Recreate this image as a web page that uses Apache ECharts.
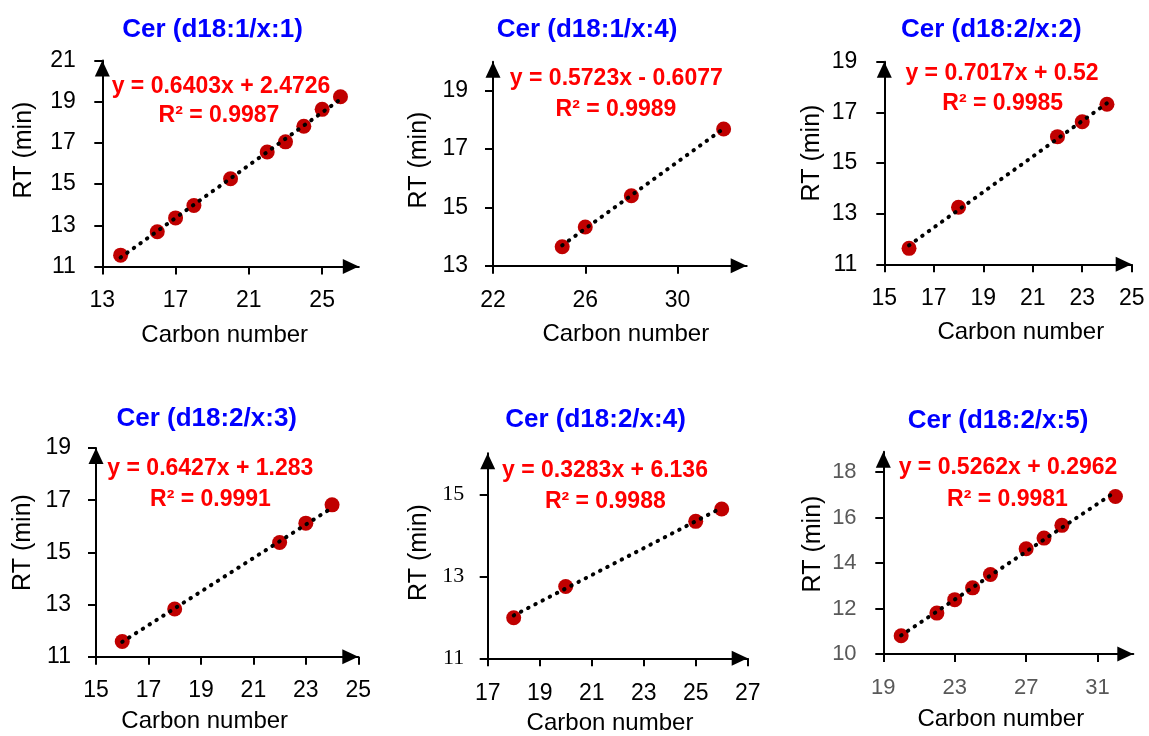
<!DOCTYPE html>
<html>
<head>
<meta charset="utf-8">
<script src="https://cdn.jsdelivr.net/npm/echarts@6/dist/echarts.min.js"></script>
<style>
html,body{margin:0;padding:0;background:#fff;}
#chart{width:1149px;height:736px;}
</style>
</head>
<body>
<div id="chart"></div>
<script>
// ---- data ----
const titles = ['Cer (d18:1/x:1)', 'Cer (d18:1/x:4)', 'Cer (d18:2/x:2)', 'Cer (d18:2/x:3)', 'Cer (d18:2/x:4)', 'Cer (d18:2/x:5)'];
const carbon1 = [14, 16, 17, 18, 20, 22, 23, 24, 25, 26];
const rt1 = [11.55, 12.69, 13.36, 13.96, 15.26, 16.56, 17.05, 17.81, 18.63, 19.24];
const carbon2 = [25, 26, 28, 32];
const rt2 = [13.65, 14.33, 15.40, 17.69];
const carbon3 = [16, 18, 22, 23, 24];
const rt3 = [11.63, 13.25, 16.04, 16.63, 17.32];
const carbon4 = [16, 18, 22, 23, 24];
const rt4 = [11.58, 12.83, 15.38, 16.12, 16.82];
const carbon5 = [18, 20, 25, 26];
const rt5 = [11.99, 12.75, 14.34, 14.64];
const carbon6 = [20, 22, 23, 24, 25, 27, 28, 29, 32];
const rt6 = [10.80, 11.80, 12.39, 12.91, 13.50, 14.63, 15.10, 15.66, 16.93];
const slopes = [0.6403, 0.5723, 0.7017, 0.6427, 0.3283, 0.5262];
const intercepts = [2.4726, -0.6077, 0.52, 1.283, 6.136, 0.2962];
const equations = ['y = 0.6403x + 2.4726', 'y = 0.5723x - 0.6077', 'y = 0.7017x + 0.52', 'y = 0.6427x + 1.283', 'y = 0.3283x + 6.136', 'y = 0.5262x + 0.2962'];
const r2Texts = ['R² = 0.9987', 'R² = 0.9989', 'R² = 0.9985', 'R² = 0.9991', 'R² = 0.9988', 'R² = 0.9981'];
const xTicks = [[13, 17, 21, 25], [22, 26, 30], [15, 17, 19, 21, 23, 25], [15, 17, 19, 21, 23, 25], [17, 19, 21, 23, 25, 27], [19, 23, 27, 31]];
const yTicks = [[11, 13, 15, 17, 19, 21], [13, 15, 17, 19], [11, 13, 15, 17, 19], [11, 13, 15, 17, 19], [11, 13, 15], [10, 12, 14, 16, 18]];
const xRanges = [[13, 27], [22, 33], [15, 25], [15, 25], [17, 27], [19, 33]];
const yRanges = [[11, 21], [13, 20], [11, 19], [11, 19], [11, 16], [10, 18.9]];
const xName = 'Carbon number';
const yName = 'RT (min)';

const carbons = [carbon1, carbon2, carbon3, carbon4, carbon5, carbon6];
const rts = [rt1, rt2, rt3, rt4, rt5, rt6];

// ---- layout ----
const grids = [
  {left: 102.3, top: 60.5, right: 358.8, bottom: 266.5},
  {left: 493, top: 61.7, right: 746.7, bottom: 265.7},
  {left: 884.3, top: 61.7, right: 1131.7, bottom: 264.3},
  {left: 96, top: 448, right: 358.3, bottom: 656.7},
  {left: 487.7, top: 453.3, right: 747.7, bottom: 658.3},
  {left: 883.3, top: 451.7, right: 1133.3, bottom: 654}
];
const titlePos = [[212.5, 30], [587, 30], [991.3, 30], [206.7, 419], [595.5, 420], [998, 421]];
const eq1Pos = [[221, 87], [616.3, 78.7], [1002, 74], [210.3, 469], [605, 471], [1008, 468]];
const eq2Pos = [[219, 116], [616, 110], [1002.7, 104], [210.5, 500], [605.3, 501.7], [1007.5, 500]];
const yNamePos = [[24, 150], [419, 160], [811.7, 153], [23.3, 542.5], [419, 552.5], [813.3, 544]];
const xNamePos = [[224.7, 335], [625.8, 334], [1020.8, 332.5], [204.7, 721], [610, 723], [1000.8, 719]];
const yLabelMargin = [26.5, 25, 27, 25, 23.4, 26.7];
const xLabelMargin = [23, 23, 23, 22, 24, 23];
const labelFont = ['Liberation Sans', 'Liberation Sans', 'Liberation Sans', 'Liberation Sans', 'Liberation Sans', 'Liberation Sans'];
const yLabelFont = ['Liberation Sans', 'Liberation Sans', 'Liberation Sans', 'Liberation Sans', 'Liberation Serif', 'Liberation Sans'];
const labelColor = ['#000', '#000', '#000', '#000', '#000', '#595959'];
const labelSize = [23, 23, 23, 23, 23, 22];
const yLabelSize = [23, 23, 23, 23, 22, 22];

const option = {
  backgroundColor: '#fff',
  animation: false,
  grid: [], xAxis: [], yAxis: [], series: [], graphic: []
};

function axisCommon() {
  return {
    type: 'value',
    splitLine: {show: false},
    axisLine: {show: true, onZero: false, symbol: ['none', 'triangle'], symbolSize: [15, 16], symbolOffset: [0, -8],
      lineStyle: {color: '#000', width: 2}},
    axisTick: {show: true, inside: false, length: 8, lineStyle: {color: '#000', width: 2}}
  };
}

for (let i = 0; i < 6; i++) {
  const g = grids[i];
  option.grid.push({left: g.left, top: g.top, width: g.right - g.left, height: g.bottom - g.top, containLabel: false});
  const xa = axisCommon();
  xa.gridIndex = i; xa.min = xRanges[i][0]; xa.max = xRanges[i][1];
  xa.axisTick.customValues = xTicks[i];
  xa.axisLabel = {customValues: xTicks[i], margin: xLabelMargin[i], fontSize: labelSize[i], fontFamily: labelFont[i], color: labelColor[i]};
  option.xAxis.push(xa);
  const ya = axisCommon();
  ya.gridIndex = i; ya.min = yRanges[i][0]; ya.max = yRanges[i][1];
  ya.axisTick.customValues = yTicks[i];
  ya.axisLabel = {customValues: yTicks[i], margin: yLabelMargin[i], fontSize: yLabelSize[i], fontFamily: yLabelFont[i], color: labelColor[i]};
  option.yAxis.push(ya);

  const pts = carbons[i].map((c, k) => [c, rts[i][k]]);
  option.series.push({
    type: 'scatter', xAxisIndex: i, yAxisIndex: i, data: pts, symbol: 'circle', symbolSize: 15,
    itemStyle: {color: '#C00000', opacity: 1}, z: 2
  });
  const x0 = Math.min.apply(null, carbons[i]);
  const x1 = Math.max.apply(null, carbons[i]);
  option.series.push({
    type: 'line', xAxisIndex: i, yAxisIndex: i, showSymbol: false, symbol: 'none', z: 3,
    data: [[x0, slopes[i] * x0 + intercepts[i]], [x1, slopes[i] * x1 + intercepts[i]]],
    lineStyle: {color: '#000', width: 4, type: [0.5, 7.6], cap: 'round'}
  });

  option.graphic.push({type: 'text', x: titlePos[i][0], y: titlePos[i][1], z: 10,
    style: {text: titles[i], fill: '#0000FF', font: 'bold 26px "Liberation Sans"', align: 'center', verticalAlign: 'middle'}});
  option.graphic.push({type: 'text', x: eq1Pos[i][0], y: eq1Pos[i][1], z: 10,
    style: {text: equations[i], fill: '#FF0000', font: 'bold 23px "Liberation Sans"', align: 'center', verticalAlign: 'middle'}});
  option.graphic.push({type: 'text', x: eq2Pos[i][0], y: eq2Pos[i][1], z: 10,
    style: {text: r2Texts[i], fill: '#FF0000', font: 'bold 23px "Liberation Sans"', align: 'center', verticalAlign: 'middle'}});
  option.graphic.push({type: 'text', x: xNamePos[i][0], y: xNamePos[i][1], z: 10,
    style: {text: xName, fill: '#000', font: '24px "Liberation Sans"', align: 'center', verticalAlign: 'middle'}});
  option.graphic.push({type: 'text', x: yNamePos[i][0], y: yNamePos[i][1], rotation: Math.PI / 2, z: 10,
    style: {text: yName, fill: '#000', font: '25px "Liberation Sans"', align: 'center', verticalAlign: 'middle'}});
}

const chart = echarts.init(document.getElementById('chart'), null, {renderer: 'canvas'});
chart.setOption(option);
</script>
</body>
</html>
